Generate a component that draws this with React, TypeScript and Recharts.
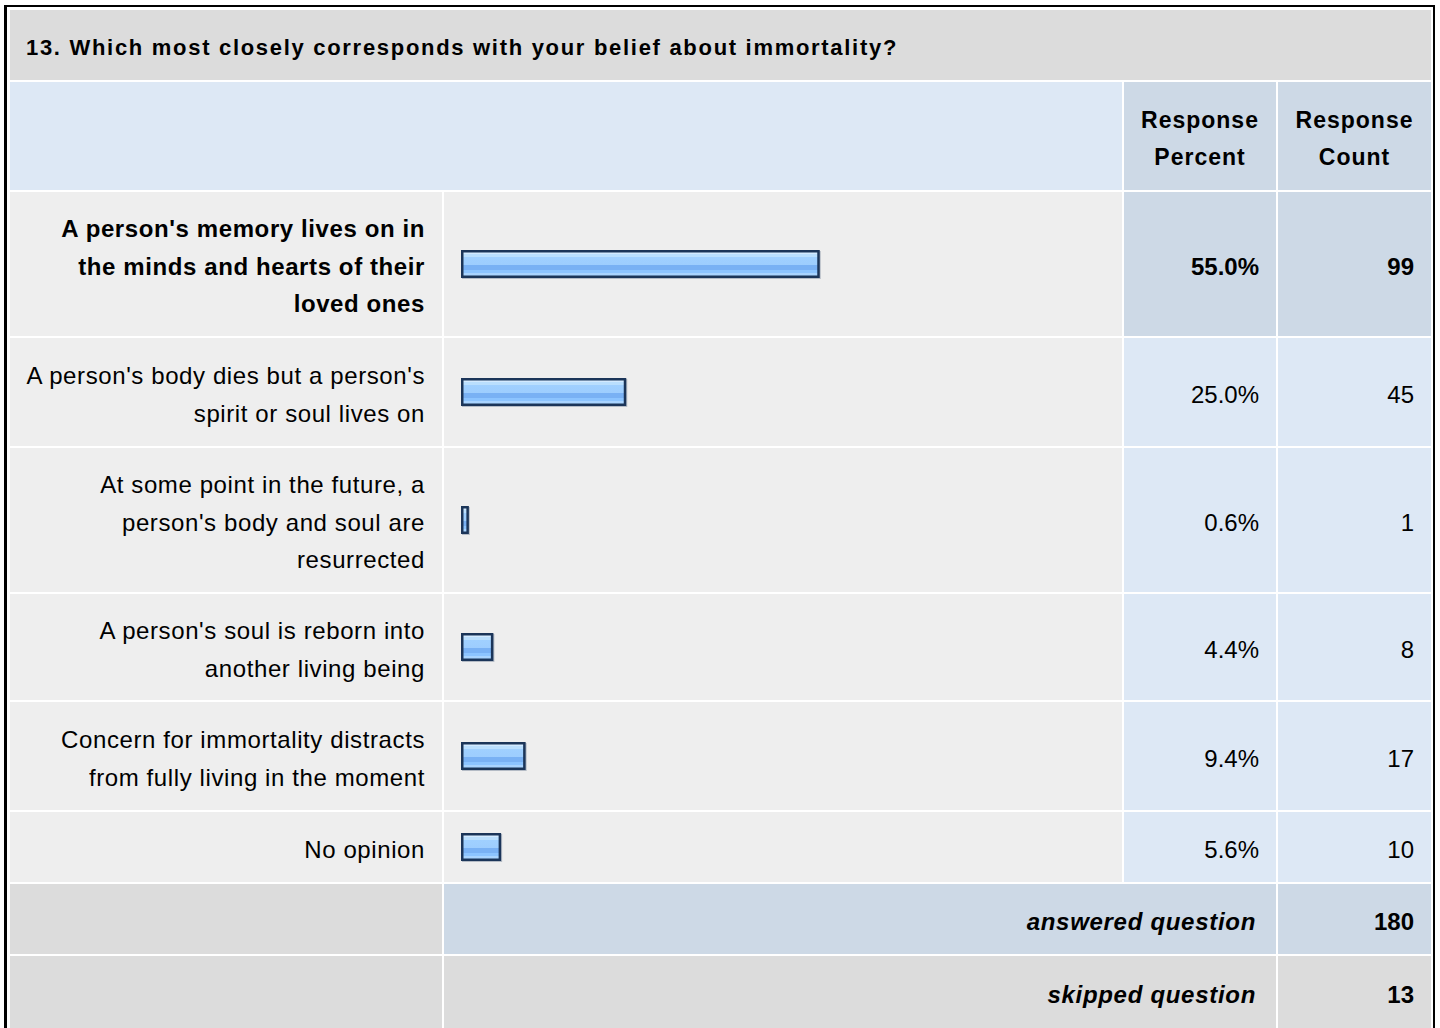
import { BarChart, Bar, XAxis, YAxis } from 'recharts'

const question = '13. Which most closely corresponds with your belief about immortality?'

const answerLabels = [
  "A person's memory lives on in\nthe minds and hearts of their\nloved ones",
  "A person's body dies but a person's\nspirit or soul lives on",
  "At some point in the future, a\nperson's body and soul are\nresurrected",
  "A person's soul is reborn into\nanother living being",
  'Concern for immortality distracts\nfrom fully living in the moment',
  'No opinion',
]
const responsePercent = [55.0, 25.0, 0.6, 4.4, 9.4, 5.6]
const responseCount = [99, 45, 1, 8, 17, 10]
const answeredQuestion = 180
const skippedQuestion = 13

const rowHeights = [144, 108, 144, 106, 108, 70]

const font = '"Liberation Sans", Arial, Helvetica, sans-serif'
const BAR_CELL_W = 678
const maxPct = Math.max(...responsePercent)

function BarShape(props: any) {
  const { x, y, width, height, gradId } = props
  const w = Math.max(width, 0) + 4
  return (
    <g>
      <rect x={x + 1} y={y + 1} width={w} height={height} fill="#8d99aa" opacity={0.6} />
      <rect x={x} y={y} width={w} height={height} fill="#1b3559" />
      <rect x={x + 2.5} y={y + 2.5} width={Math.max(w - 5, 1)} height={height - 5} fill={`url(#${gradId})`} />
    </g>
  )
}

function RowBar({ value, height, idx }: { value: number; height: number; idx: number }) {
  const gradId = `barGrad${idx}`
  return (
    <BarChart
      width={BAR_CELL_W}
      height={height}
      layout="vertical"
      data={[{ name: 'r', value }]}
      margin={{ top: 0, right: 16, left: 17, bottom: 0 }}
    >
      <defs>
        <linearGradient id={gradId} x1="0" y1="0" x2="0" y2="1">
          <stop offset="0" stopColor="#d3eaff" />
          <stop offset="0.08" stopColor="#d3eaff" />
          <stop offset="0.08" stopColor="#badffe" />
          <stop offset="0.2" stopColor="#badffe" />
          <stop offset="0.2" stopColor="#a0d0ff" />
          <stop offset="0.56" stopColor="#9dcdfe" />
          <stop offset="0.56" stopColor="#79b1f4" />
          <stop offset="0.76" stopColor="#79b1f4" />
          <stop offset="0.76" stopColor="#8cc4ff" />
          <stop offset="0.88" stopColor="#8cc4ff" />
          <stop offset="0.88" stopColor="#a9d4ff" />
          <stop offset="1" stopColor="#a9d4ff" />
        </linearGradient>
      </defs>
      <XAxis type="number" domain={[0, 100]} hide />
      <YAxis type="category" dataKey="name" hide />
      <Bar
        dataKey="value"
        barSize={28}
        isAnimationActive={false}
        shape={(p: any) => <BarShape {...p} gradId={gradId} />}
      />
    </BarChart>
  )
}

const cell = (bg: string, extra: React.CSSProperties = {}): React.CSSProperties => ({
  background: bg,
  padding: 0,
  verticalAlign: 'middle',
  ...extra,
})

const textCell = (bg: string, extra: React.CSSProperties = {}): React.CSSProperties =>
  cell(bg, { paddingTop: 5, fontSize: 24, ...extra })

export default function App() {
  return (
    <div
      style={{
        position: 'absolute',
        left: 4,
        top: 5,
        borderLeft: '3px solid #000',
        borderTop: '2px solid #000',
        borderRight: '2px solid #000',
        borderBottom: '2px solid #000',
        paddingLeft: 1,
        paddingTop: 1,
        background: '#fff',
        fontFamily: font,
        color: '#000',
      }}
    >
      <table style={{ borderCollapse: 'separate', borderSpacing: 2, width: 1425, tableLayout: 'fixed' }}>
        <colgroup>
          <col style={{ width: 432 }} />
          <col style={{ width: 678 }} />
          <col style={{ width: 152 }} />
          <col style={{ width: 153 }} />
        </colgroup>
        <tbody>
          <tr style={{ height: 70 }}>
            <td
              colSpan={4}
              style={textCell('#dcdcdc', { paddingLeft: 16, fontWeight: 'bold', fontSize: 22, letterSpacing: 1.7 })}
            >
              {question}
            </td>
          </tr>
          <tr style={{ height: 108 }}>
            <td colSpan={2} style={cell('#dde8f5')} />
            <td
              style={textCell('#cdd9e6', {
                textAlign: 'center',
                fontWeight: 'bold',
                fontSize: 23,
                lineHeight: '37px',
                letterSpacing: 1,
              })}
            >
              Response
              <br />
              Percent
            </td>
            <td
              style={textCell('#cdd9e6', {
                textAlign: 'center',
                fontWeight: 'bold',
                fontSize: 23,
                lineHeight: '37px',
                letterSpacing: 1,
              })}
            >
              Response
              <br />
              Count
            </td>
          </tr>
          {answerLabels.map((label, i) => {
            const top = responsePercent[i] === maxPct
            const side = top ? '#cdd9e6' : '#dde8f5'
            const fw = top ? 'bold' : 'normal'
            return (
              <tr key={i} style={{ height: rowHeights[i] }}>
                <td
                  style={textCell('#eeeeee', {
                    textAlign: 'right',
                    paddingRight: 17,
                    lineHeight: '37.5px',
                    fontWeight: fw,
                    letterSpacing: 0.6,
                    whiteSpace: 'pre-line',
                  })}
                >
                  {label}
                </td>
                <td style={cell('#eeeeee', { lineHeight: 0 })}>
                  <RowBar value={responsePercent[i]} height={rowHeights[i]} idx={i} />
                </td>
                <td style={textCell(side, { textAlign: 'right', paddingRight: 17, fontWeight: fw })}>
                  {responsePercent[i].toFixed(1)}%
                </td>
                <td style={textCell(side, { textAlign: 'right', paddingRight: 17, fontWeight: fw })}>
                  {responseCount[i]}
                </td>
              </tr>
            )
          })}
          <tr style={{ height: 70 }}>
            <td style={cell('#dcdcdc')} />
            <td
              colSpan={2}
              style={textCell('#cdd9e6', {
                textAlign: 'right',
                paddingRight: 20,
                fontWeight: 'bold',
                fontStyle: 'italic',
                letterSpacing: 0.7,
              })}
            >
              answered question
            </td>
            <td style={textCell('#cdd9e6', { textAlign: 'right', paddingRight: 17, fontWeight: 'bold' })}>
              {answeredQuestion}
            </td>
          </tr>
          <tr style={{ height: 72 }}>
            <td style={cell('#dcdcdc')} />
            <td
              colSpan={2}
              style={textCell('#dcdcdc', {
                textAlign: 'right',
                paddingRight: 20,
                fontWeight: 'bold',
                fontStyle: 'italic',
                letterSpacing: 0.7,
              })}
            >
              skipped question
            </td>
            <td style={textCell('#dcdcdc', { textAlign: 'right', paddingRight: 17, fontWeight: 'bold' })}>
              {skippedQuestion}
            </td>
          </tr>
        </tbody>
      </table>
    </div>
  )
}
